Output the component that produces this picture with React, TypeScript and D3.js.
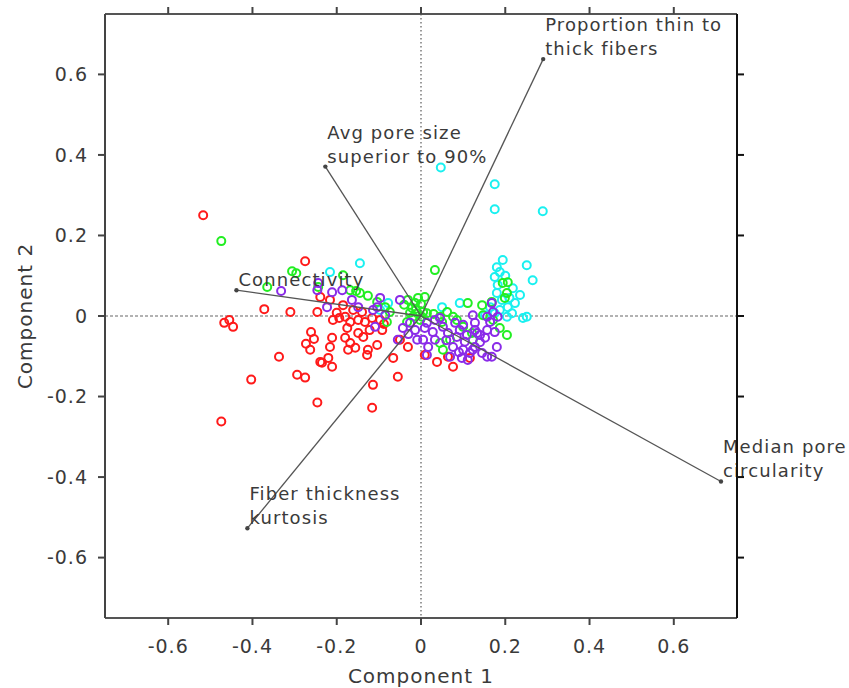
import React from "react";
import * as d3 from "d3";

const xTicks = [-0.6, -0.4, -0.2, 0, 0.2, 0.4, 0.6];
const xTickLabels = ["-0.6", "-0.4", "-0.2", "0", "0.2", "0.4", "0.6"];
const yTicks = [-0.6, -0.4, -0.2, 0, 0.2, 0.4, 0.6];
const yTickLabels = ["-0.6", "-0.4", "-0.2", "0", "0.2", "0.4", "0.6"];

const vectorLabels = [
  ["Proportion thin to", "thick fibers"],
  ["Avg pore size", "superior to 90%"],
  ["Connectivity"],
  ["Fiber thickness", "kurtosis"],
  ["Median pore", "circularity"],
];
const vectorX = [0.29, -0.227, -0.438, -0.412, 0.712];
const vectorY = [0.638, 0.371, 0.064, -0.527, -0.411];

const redPoints: [number, number][] = [
  [-0.517, 0.25], [-0.275, 0.136], [-0.474, -0.262], [-0.467, -0.017], [-0.455, -0.01],
  [-0.446, -0.027], [-0.372, 0.017], [-0.31, 0.01], [-0.337, -0.101], [-0.403, -0.158],
  [-0.294, -0.146], [-0.246, 0.01], [-0.261, -0.04], [-0.254, -0.057], [-0.273, -0.069],
  [-0.263, -0.084], [-0.275, -0.153], [-0.246, -0.215], [-0.239, -0.114], [-0.239, 0.047],
  [-0.216, 0.04], [-0.185, 0.027], [-0.161, 0.015], [-0.14, 0.01], [-0.209, -0.01],
  [-0.194, -0.005], [-0.18, -0.002], [-0.168, -0.015], [-0.149, -0.01], [-0.133, -0.015],
  [-0.116, -0.005], [-0.097, -0.01], [-0.211, -0.054], [-0.216, -0.077], [-0.18, -0.054],
  [-0.168, -0.067], [-0.156, -0.079], [-0.137, -0.052], [-0.149, -0.042], [-0.126, -0.084],
  [-0.104, -0.072], [-0.22, -0.104], [-0.235, -0.116], [-0.211, -0.126], [-0.173, -0.084],
  [-0.128, -0.097], [-0.114, -0.171], [-0.116, -0.228], [-0.055, -0.151], [-0.066, -0.104],
  [-0.031, -0.077], [-0.05, -0.059], [0.038, -0.114], [0.076, -0.126], [-0.092, -0.035],
  [0.009, -0.097], [0.064, -0.101], [0.116, -0.104], [-0.2, 0.008], [-0.175, -0.03],
  [-0.122, -0.035], [-0.088, -0.02],
];

const cyanPoints: [number, number][] = [
  [0.047, 0.369], [0.175, 0.327], [0.175, 0.265], [0.289, 0.26], [0.18, 0.121],
  [0.194, 0.139], [0.187, 0.109], [0.175, 0.097], [0.251, 0.126], [0.265, 0.089],
  [0.182, 0.077], [0.218, 0.069], [0.235, 0.052], [0.18, 0.057], [0.192, 0.04],
  [0.206, 0.022], [0.223, 0.032], [0.216, 0.007], [0.242, -0.005], [0.251, -0.002],
  [0.204, -0.002], [0.187, 0.015], [0.175, 0.007], [0.05, 0.022], [0.092, 0.032],
  [0.164, 0.022], [0.152, 0.002], [-0.145, 0.131], [-0.216, 0.109], [-0.078, 0.032],
  [-0.097, 0.015], [0.2, 0.1], [0.21, 0.045],
];

const greenPoints: [number, number][] = [
  [-0.474, 0.186], [-0.306, 0.111], [-0.296, 0.106], [-0.365, 0.072], [-0.185, 0.101],
  [-0.168, 0.064], [-0.154, 0.062], [-0.145, 0.057], [-0.126, 0.05], [-0.104, 0.035],
  [-0.085, 0.022], [-0.074, 0.01], [-0.081, -0.015], [-0.031, 0.04], [-0.014, 0.032],
  [-0.007, 0.045], [0.009, 0.047], [0.033, 0.114], [-0.021, 0.02], [-0.009, 0.007],
  [0.005, 0.01], [-0.019, -0.002], [-0.002, -0.01], [0.014, 0.007], [-0.033, -0.015],
  [0.062, 0.01], [0.05, -0.015], [0.052, -0.084], [0.045, -0.067], [0.111, 0.032],
  [0.145, 0.027], [0.147, 0.002], [0.171, -0.01], [0.194, 0.082], [0.206, 0.084],
  [0.204, 0.057], [0.199, 0.045], [0.204, -0.047], [0.187, -0.03], [0.085, -0.01],
  [0.1, -0.027], [0.121, -0.042], [0.168, 0.035], [0.045, -0.002], [0.076, -0.002],
  [0.069, -0.059], [0.123, -0.059], [-0.244, 0.072], [-0.012, 0.018], [0.0, 0.03],
  [-0.026, 0.008], [0.002, -0.002], [0.03, 0.005], [-0.04, 0.028],
];

const purplePoints: [number, number][] = [
  [-0.332, 0.062], [-0.246, 0.064], [-0.211, 0.059], [-0.223, 0.022], [-0.187, 0.064],
  [-0.164, 0.04], [-0.149, 0.022], [-0.104, 0.022], [-0.097, 0.045], [-0.114, 0.015],
  [-0.085, 0.002], [-0.109, -0.027], [-0.05, 0.04], [-0.043, -0.03], [-0.055, -0.059],
  [-0.009, -0.059], [0.009, -0.03], [0.014, -0.097], [-0.026, -0.017], [-0.014, -0.035],
  [0.033, -0.01], [0.045, -0.005], [0.064, -0.042], [0.085, -0.052], [0.1, -0.022],
  [0.123, 0.002], [0.128, -0.035], [0.14, -0.047], [0.168, 0.032], [0.171, 0.01],
  [0.182, -0.002], [0.164, -0.015], [0.157, -0.035], [0.18, -0.077], [0.168, -0.101],
  [0.145, -0.092], [0.116, -0.092], [0.1, -0.084], [0.128, -0.077], [0.104, -0.064],
  [0.069, -0.101], [0.157, -0.002], [0.128, -0.017], [0.081, -0.017], [0.014, -0.017],
  [0.028, -0.04], [0.052, -0.027], [0.092, -0.035], [0.109, -0.047], [0.133, -0.042],
  [0.152, -0.054], [0.175, -0.04], [0.157, -0.101], [0.123, -0.084], [0.097, -0.104],
  [0.111, -0.109], [0.017, -0.077], [0.005, -0.059], [0.033, -0.059], [0.076, -0.077],
  [-0.244, 0.082], [-0.03, -0.045], [0.06, -0.06], [0.14, -0.065], [0.09, -0.09],
];

const groups = [
  { pts: redPoints, color: "#ff1a1a" },
  { pts: cyanPoints, color: "#1af0f0" },
  { pts: greenPoints, color: "#22ee22" },
  { pts: purplePoints, color: "#8a2be8" },
];

const W = 849;
const H = 688;
const FONT = "'DejaVu Sans', sans-serif";
const TXT = "#3a3a3a";

export default function App() {
  const x = d3.scaleLinear().domain([-0.75, 0.75]).range([105, 737]);
  const y = d3.scaleLinear().domain([-0.75, 0.75]).range([618, 14]);
  const [x0, x1] = x.range();
  const [y0, y1] = y.range();

  return (
    <svg
      width={W}
      height={H}
      style={{ position: "absolute", left: 0, top: 0, background: "#fff" }}
      fontFamily={FONT}
    >
      <rect x={0} y={0} width={W} height={H} fill="#fff" />
      {/* zero lines */}
      <line x1={x(0)} x2={x(0)} y1={y1} y2={y0} stroke="#666" strokeWidth={1.3} strokeDasharray="1.5,2.5" />
      <line x1={x0} x2={x1} y1={y(0)} y2={y(0)} stroke="#666" strokeWidth={1.2} strokeDasharray="3,2" />

      {/* points */}
      {groups.map((g, gi) => (
        <g key={gi}>
          {g.pts.map((p, i) => (
            <circle key={i} cx={x(p[0])} cy={y(p[1])} r={4} fill="none" stroke={g.color} strokeWidth={2} />
          ))}
        </g>
      ))}

      {/* vectors */}
      {vectorX.map((vx, i) => (
        <g key={i}>
          <line x1={x(0)} y1={y(0)} x2={x(vx)} y2={y(vectorY[i])} stroke="#555" strokeWidth={1.3} />
          <circle cx={x(vx)} cy={y(vectorY[i])} r={2.2} fill="#444" />
          <text x={x(vx) + 2} y={y(vectorY[i]) - 4} fontSize={18} fill={TXT} letterSpacing={1.1}>
            {vectorLabels[i].map((l, j) => (
              <tspan key={j} x={x(vx) + 2} dy={j === 0 ? -(vectorLabels[i].length - 1) * 24 : 24}>
                {l}
              </tspan>
            ))}
          </text>
        </g>
      ))}

      {/* frame */}
      <line x1={x0} x2={x1} y1={y1} y2={y1} stroke="#555" strokeWidth={2} />
      <line x1={x0} x2={x1} y1={y0} y2={y0} stroke="#555" strokeWidth={2} />
      <line x1={x0} x2={x0} y1={y1} y2={y0} stroke="#444" strokeWidth={2} />
      <line x1={x1} x2={x1} y1={y1} y2={y0} stroke="#111" strokeWidth={2} />

      {/* x ticks */}
      {xTicks.map((t, i) => (
        <g key={i}>
          <line x1={x(t)} x2={x(t)} y1={y0} y2={y0 + 7} stroke="#444" strokeWidth={2} />
          <line x1={x(t)} x2={x(t)} y1={y1} y2={y1 - 7} stroke="#444" strokeWidth={2} />
          <text x={x(t)} y={653} textAnchor="middle" fontSize={19} fill={TXT} letterSpacing={1}>
            {xTickLabels[i]}
          </text>
        </g>
      ))}
      {/* y ticks */}
      {yTicks.map((t, i) => (
        <g key={i}>
          <line x1={x0} x2={x0 - 7} y1={y(t)} y2={y(t)} stroke="#444" strokeWidth={2} />
          <line x1={x1} x2={x1 + 7} y1={y(t)} y2={y(t)} stroke="#111" strokeWidth={2} />
          <text x={88} y={y(t)} dy="0.35em" textAnchor="end" fontSize={19} fill={TXT} letterSpacing={1}>
            {yTickLabels[i]}
          </text>
        </g>
      ))}

      {/* axis labels */}
      <text x={(x0 + x1) / 2} y={683} textAnchor="middle" fontSize={20} fill={TXT} letterSpacing={1}>
        Component 1
      </text>
      <text
        transform={`translate(32, ${(y0 + y1) / 2}) rotate(-90)`}
        textAnchor="middle"
        fontSize={20}
        fill={TXT}
        letterSpacing={1}
      >
        Component 2
      </text>
    </svg>
  );
}
